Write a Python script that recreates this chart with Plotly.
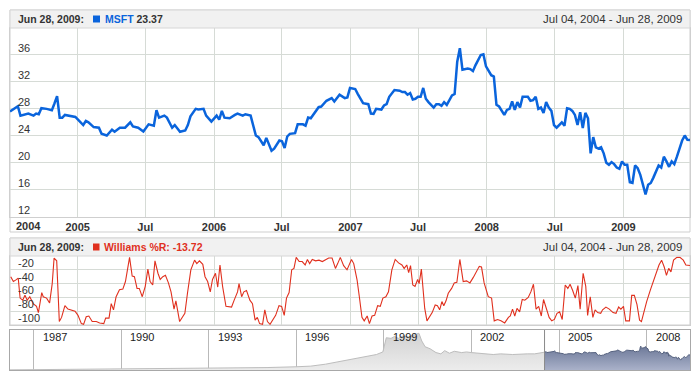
import plotly.graph_objects as go
import pandas as pd

W, H = 700, 380
START = pd.Timestamp("2004-07-04")
END = pd.Timestamp("2009-06-28")

# ---------------- data ----------------
msft_weeks = [0, 2, 3, 4, 6, 7, 9, 10, 11, 12, 14, 16, 17, 18, 19, 20, 21, 23, 25, 26,
              28, 29, 30, 32, 34, 35, 37, 39, 40, 42, 44, 46, 47, 49, 51, 53, 55, 56, 57, 59,
              60, 62, 63, 65, 67, 68, 69, 71, 72, 74, 75, 77, 79, 80, 81, 82, 84, 86, 87, 89,
              90, 92, 94, 95, 97, 98, 100, 101, 103, 104, 105, 106, 107, 109, 110, 112, 113, 114, 115, 118,
              119, 121, 123, 124, 126, 128, 129, 130, 132, 133, 135, 137, 138, 139, 140, 142, 143, 144, 145, 147,
              149, 150, 151, 152, 153, 154, 155, 156, 157, 158, 159, 160, 162, 163, 164, 165, 166, 167, 168, 169,
              170, 171, 172, 173, 175, 176, 177, 178, 180, 181, 182, 183, 184, 185, 186, 187, 189, 190, 191, 192,
              193, 194, 195, 196, 198, 199, 200, 201, 202, 203, 204, 205, 206, 207, 208, 209, 210, 211, 212, 213,
              214, 215, 216, 217, 218, 219, 220, 221, 222, 223, 224, 225, 226, 227, 228, 229, 230, 231, 232, 233,
              234, 235, 236, 237, 238, 239, 240, 241, 242, 243, 244, 245, 246, 247, 248, 249, 250, 251, 252, 253,
              254, 255, 256, 257, 258, 259, 260]
msft_close = [27.6, 28.1, 28.4, 27.0, 27.2, 27.3, 27.0, 27.3, 27.2, 28.1, 28.0, 27.8, 28.8, 29.9, 26.7, 26.7, 27.1, 26.9, 26.8, 26.4,
              25.6, 26.2, 26.0, 25.3, 25.2, 24.3, 24.05, 24.9, 24.6, 25.2, 25.2, 26.0, 25.4, 25.2, 24.65, 25.7, 25.5, 27.8, 26.7, 27.0,
              26.7, 25.2, 25.6, 24.6, 24.8, 25.6, 26.9, 28.0, 27.9, 28.0, 27.0, 26.1, 27.0, 26.4, 27.7, 26.7, 26.6, 27.1, 27.3, 27.0,
              27.2, 27.0, 24.05, 23.8, 22.6, 23.7, 21.8, 22.1, 23.3, 23.2, 22.2, 23.9, 24.3, 24.4, 25.7, 25.7, 25.5, 26.7, 26.6, 28.25,
              28.35, 29.2, 29.6, 29.1, 30.1, 29.6, 29.7, 31.1, 30.95, 30.2, 28.85, 28.7, 27.3, 27.25, 28.0, 27.9, 28.5, 28.7, 29.8, 30.8,
              30.7, 30.5, 30.5, 30.1, 30.35, 29.4, 29.5, 29.8, 29.8, 31.1, 29.5, 29.0, 28.2, 28.7, 28.7, 28.45, 29.0, 28.6, 29.4, 30.0,
              30.2, 35.0, 37.0, 33.8, 34.0, 33.9, 33.6, 34.5, 36.0, 36.1, 34.3, 33.6, 33.0, 32.8, 28.6, 28.35, 27.1, 27.85, 28.0, 29.1,
              27.85, 29.0, 28.2, 29.8, 29.8, 29.2, 29.3, 29.8, 28.0, 28.2, 27.4, 29.0, 28.2, 27.7, 25.6, 25.2, 25.6, 26.0, 25.5, 28.1,
              28.0, 27.7, 27.1, 25.6, 27.5, 25.15, 27.4, 26.6, 21.4, 23.8, 22.3, 22.1, 22.3, 21.4, 20.0, 19.7, 20.1, 19.8, 19.3, 19.1,
              20.2, 19.7, 19.7, 17.1, 17.0, 19.6, 19.2, 18.2, 16.75, 15.3, 16.75, 17.0, 17.8, 18.8, 19.6, 19.3, 20.9, 20.2, 19.4, 20.2,
              19.8, 20.9, 22.2, 23.3, 24.05, 23.4, 23.37]

wr_weeks = [0.3, 1.3, 2.2, 3.2, 3.8, 4.8, 5.7, 6.6, 7.6, 8.9, 10.2, 10.8, 12.1, 12.7, 14.0, 15.2, 16.1, 16.9, 17.8, 18.8,
            19.7, 21.0, 22.2, 23.5, 24.8, 26.0, 27.3, 28.2, 29.2, 30.2, 31.5, 33.0, 34.3, 35.8, 36.6, 37.8, 38.7, 39.6, 40.6, 41.9,
            43.2, 44.2, 45.1, 45.7, 46.7, 47.6, 48.6, 49.5, 50.5, 51.7, 52.7, 53.6, 54.6, 55.5, 56.5, 57.5, 58.4, 59.4, 60.6, 61.6,
            62.7, 63.5, 64.8, 65.8, 66.8, 67.9, 69.2, 70.5, 71.4, 72.4, 73.7, 74.5, 75.6, 76.6, 77.5, 78.5, 79.4, 80.3, 81.3, 82.5,
            83.8, 84.7, 85.7, 87.0, 87.6, 88.5, 89.5, 90.4, 91.7, 92.7, 93.7, 94.6, 95.5, 96.5, 97.5, 98.4, 99.4, 100.6, 101.6, 102.9,
            103.9, 104.8, 105.7, 106.7, 107.7, 108.6, 109.5, 110.5, 111.7, 112.8, 113.7, 114.5, 115.6, 116.8, 118.1, 119.4, 120.6, 121.9, 123.2, 124.4,
            125.3, 126.3, 127.6, 128.9, 129.5, 130.5, 131.4, 132.7, 133.6, 134.6, 135.5, 136.5, 137.4, 138.4, 139.4, 140.5, 141.6, 142.6, 143.7, 144.7,
            146.0, 147.3, 148.5, 149.8, 150.7, 151.7, 152.4, 153.2, 154.0, 154.9, 155.8, 156.4, 157.3, 158.5, 159.5, 160.6, 161.5, 162.5, 163.5, 164.3,
            165.1, 165.9, 166.7, 167.6, 168.9, 169.9, 170.8, 172.0, 173.3, 174.6, 175.8, 177.1, 178.4, 179.4, 180.3, 181.3, 182.8, 184.1, 185.1, 186.4,
            187.7, 189.2, 190.5, 191.3, 192.1, 193.0, 193.9, 194.8, 195.8, 196.8, 198.1, 199.1, 200.2, 201.2, 202.1, 203.2, 204.0, 205.1, 206.1, 207.2,
            208.2, 209.2, 210.1, 211.2, 212.3, 213.3, 214.2, 215.2, 216.2, 217.1, 218.0, 219.1, 220.2, 220.9, 221.9, 222.8, 223.7, 224.7, 225.8, 226.6,
            227.9, 229.2, 230.5, 231.7, 232.7, 233.6, 234.6, 235.5, 236.8, 237.7, 238.7, 239.7, 240.7, 241.5, 242.5, 243.5, 244.8, 246.1, 247.3, 248.2,
            249.1, 250.1, 251.0, 251.8, 252.7, 253.7, 255.0, 256.2, 257.4, 258.4, 260.0]
wr_values = [-30, -37, -35, -32, -61, -64, -57, -64, -59, -69, -73, -82, -53, -59, -61, -68, -40, -3, -7, -95,
             -89, -72, -77, -78, -80, -86, -98, -99, -88, -87, -95, -95, -97, -98, -90, -90, -69, -78, -59, -49,
             -48, -37, -15, -2, -29, -30, -47, -47, -59, -44, -19, -37, -42, -7, -25, -34, -30, -28, -39, -52,
             -77, -65, -95, -89, -83, -54, -20, -6, -11, -7, -12, -30, -37, -52, -34, -25, -45, -13, -44, -73,
             -74, -74, -64, -52, -40, -59, -52, -50, -64, -69, -93, -89, -98, -99, -78, -95, -99, -92, -86, -72,
             -73, -86, -61, -53, -20, -18, -2, -8, -8, -13, -5, -11, -5, -7, -6, -8, -6, -3, -3, -18,
             -11, -2, -14, -20, -15, -5, -11, -35, -59, -89, -94, -87, -98, -87, -86, -72, -73, -61, -59, -52,
             -20, -5, -10, -13, -18, -13, -24, -14, -42, -44, -34, -40, -19, -76, -94, -86, -82, -71, -72, -78,
             -66, -72, -65, -54, -47, -39, -38, -5, -37, -36, -39, -31, -21, -15, -16, -39, -59, -61, -94, -92,
             -94, -97, -89, -87, -77, -87, -76, -81, -63, -64, -60, -52, -41, -77, -73, -87, -63, -78, -89, -94,
             -92, -83, -81, -92, -42, -47, -41, -50, -61, -43, -77, -25, -44, -86, -59, -89, -78, -82, -83, -78,
             -74, -77, -82, -83, -74, -77, -73, -94, -94, -57, -57, -70, -93, -95, -76, -66, -49, -35, -20, -13,
             -6, -16, -28, -18, -23, -6, -2, -2, -6, -13, -13.72]

hist_dates = ["1986-03-13", "1987-01-01", "1988-01-01", "1989-01-01", "1990-01-01", "1991-01-01",
              "1992-01-01", "1993-01-01", "1994-01-01", "1995-01-01", "1996-01-01", "1996-07-01",
              "1997-01-01", "1997-07-01", "1997-12-01", "1998-04-01", "1998-07-01", "1998-10-01",
              "1998-12-20", "1999-02-01", "1999-04-01", "1999-05-15", "1999-07-01", "1999-09-01",
              "1999-11-01", "2000-01-01", "2000-03-15", "2000-04-20", "2000-06-01", "2000-08-01",
              "2000-10-15", "2000-12-15", "2001-02-01", "2001-04-01", "2001-06-01", "2001-09-01",
              "2001-11-01", "2002-01-01", "2002-06-01", "2002-10-01", "2003-01-01", "2003-06-01",
              "2003-12-01", "2004-03-01", "2004-07-04"]
hist_close = [0.2, 0.5, 0.6, 0.7, 1.2, 1.8, 2.6, 2.8, 3.0, 3.8, 5.0, 6.0,
              9.0, 13.0, 16.5, 19.5, 22.0, 24.0, 28.0, 50.0, 49.0, 52.0, 49.0, 53.0,
              51.0, 54.0, 57.0, 45.0, 36.0, 33.0, 27.0, 25.0, 30.0, 26.0, 29.0, 27.0,
              28.0, 27.0, 25.0, 24.0, 25.0, 24.0, 25.0, 25.0, 27.6]

main_tick_dates = ["2005-01-01", "2005-07-01", "2006-01-01", "2006-07-01", "2007-01-01",
                   "2007-07-01", "2008-01-01", "2008-07-01", "2009-01-01"]
main_tick_text = ["2005", "Jul", "2006", "Jul", "2007", "Jul", "2008", "Jul", "2009"]
price_ticks = [12, 16, 20, 24, 28, 32, 36]
wr_ticks = [-100, -80, -60, -40, -20]
scroll_years = [1987, 1990, 1993, 1996, 1999, 2002, 2005, 2008]

# ---------------- derived ----------------
msft_dates = [START + pd.Timedelta(weeks=w) for w in msft_weeks]
wr_dates = [START + pd.Timedelta(days=round(w * 7)) for w in wr_weeks]
scroll_dates = [f"{y}-01-01" for y in scroll_years]

FONT = "Tahoma, 'Liberation Sans', Arial, sans-serif"
BLUE = "#0A64DC"
RED = "#E0301E"
GRID = "#D6DBD6"
FRAME = "#CFCFCF"
TXT = "#333333"


def px(x):
    return x / W


def py(y):
    return 1 - y / H


fig = go.Figure()

fig.add_trace(go.Scatter(x=msft_dates, y=msft_close, mode="lines", xaxis="x", yaxis="y",
                         line=dict(color=BLUE, width=2.5), hoverinfo="skip"))
fig.add_trace(go.Scatter(x=wr_dates, y=wr_values, mode="lines", xaxis="x2", yaxis="y2",
                         line=dict(color=RED, width=1.1), hoverinfo="skip"))
fig.add_trace(go.Scatter(x=hist_dates, y=hist_close, mode="lines", xaxis="x3", yaxis="y3",
                         line=dict(color="#BDBDBD", width=1), fill="tozeroy",
                         fillgradient=dict(type="vertical",
                                           colorscale=[[0, "#ECECEC"], [1, "#D2D2D2"]]),
                         hoverinfo="skip"))
fig.add_trace(go.Scatter(x=msft_dates, y=msft_close, mode="lines", xaxis="x3", yaxis="y3",
                         line=dict(color="#56627F", width=1), fill="tozeroy",
                         fillgradient=dict(type="vertical",
                                           colorscale=[[0, "#A9B1C9"], [1, "#6C7898"]]),
                         hoverinfo="skip"))

dom_x = [px(10), px(690)]
common_x = dict(domain=dom_x, type="date", range=[START, END], tickvals=main_tick_dates,
                showgrid=True, gridcolor=GRID, gridwidth=1, showline=True, mirror=True,
                linecolor=FRAME, zeroline=False, ticks="", automargin=False)
common_y = dict(showgrid=True, gridcolor=GRID, showline=True, mirror=True, linecolor=FRAME,
                zeroline=False, ticks="", showticklabels=False, automargin=False)
fig.update_layout(
    width=W, height=H, autosize=False,
    margin=dict(l=0, r=0, t=0, b=0, pad=0),
    paper_bgcolor="white", plot_bgcolor="white",
    showlegend=False,
    font=dict(family=FONT, size=11, color=TXT),
    xaxis=dict(common_x, anchor="y",
               ticktext=[f"<b>{t}</b>" for t in main_tick_text],
               tickfont=dict(size=11, color=TXT)),
    yaxis=dict(common_y, domain=[py(216.7), py(28)], range=[12, 40], tickvals=price_ticks,
               anchor="x"),
    xaxis2=dict(common_x, anchor="y2", showticklabels=False),
    yaxis2=dict(common_y, domain=[py(325), py(256)], range=[-100, 0], tickvals=wr_ticks,
                anchor="x2"),
    xaxis3=dict(domain=dom_x, type="date", range=["1986-03-13", END], anchor="y3",
                tickvals=scroll_dates, showticklabels=False, showgrid=True,
                gridcolor="#B9B9B9", showline=True, mirror=True, linecolor="#A8A8A8",
                zeroline=False, ticks="", automargin=False),
    yaxis3=dict(domain=[py(370), py(330)], range=[0, 62], anchor="x3", showgrid=False,
                showticklabels=False, showline=True, mirror=True, linecolor="#A8A8A8",
                zeroline=False, ticks="", automargin=False),
)

shapes = []
# panel frames
shapes.append(dict(type="rect", xref="paper", yref="paper", x0=px(10), x1=px(690),
                   y0=py(232), y1=py(10), line=dict(color=FRAME, width=1), layer="below"))
shapes.append(dict(type="rect", xref="paper", yref="paper", x0=px(10), x1=px(690),
                   y0=py(325), y1=py(238), line=dict(color=FRAME, width=1), layer="below"))
# header bars
for top in (10, 238):
    shapes.append(dict(type="rect", xref="paper", yref="paper", x0=px(10), x1=px(690),
                       y0=py(top + 18), y1=py(top), fillcolor="#F1F1F1",
                       line=dict(color="#D6D6D6", width=1)))
# legend squares
shapes.append(dict(type="rect", xref="paper", yref="paper", x0=px(93), x1=px(100),
                   y0=py(22.5), y1=py(15.5), fillcolor=BLUE, line=dict(width=0)))
shapes.append(dict(type="rect", xref="paper", yref="paper", x0=px(93), x1=px(99.5),
                   y0=py(250.5), y1=py(243.5), fillcolor=RED, line=dict(width=0)))
# scroller selection edge
shapes.append(dict(type="line", xref="x3", yref="paper", x0=START, x1=START,
                   y0=py(370), y1=py(330), line=dict(color="#8A8A8A", width=1)))
fig.update_layout(shapes=shapes)

ann = []
for ycen in (19, 247):
    ann.append(dict(xref="paper", yref="paper", x=px(16), y=py(ycen),
                    text="<b>Jun 28, 2009:</b>",
                    showarrow=False, xanchor="left", yanchor="middle",
                    font=dict(size=10.5, color=TXT)))
    ann.append(dict(xref="paper", yref="paper", x=px(684), y=py(ycen),
                    text="Jul 04, 2004 - Jun 28, 2009", showarrow=False, xanchor="right",
                    yanchor="middle", font=dict(size=11.5, color=TXT)))
ann.append(dict(xref="paper", yref="paper", x=px(103), y=py(19),
                text=f"<b><span style='color:{BLUE}'>MSFT</span> {msft_close[-1]:.2f}</b>",
                showarrow=False, xanchor="left", yanchor="middle",
                font=dict(size=10.5, color=TXT)))
ann.append(dict(xref="paper", yref="paper", x=px(102), y=py(247),
                text=f"<b>Williams %R: {wr_values[-1]:.2f}</b>",
                showarrow=False, xanchor="left", yanchor="middle",
                font=dict(size=10.5, color=RED)))
ann.append(dict(xref="paper", yref="paper", x=px(14), y=py(226), text="<b>2004</b>",
                showarrow=False, xanchor="left", yanchor="middle",
                font=dict(size=11, color=TXT)))
# y tick labels (sit just above their grid lines)
for v in price_ticks:
    ann.append(dict(xref="paper", yref="y", x=px(16), y=v, text=str(v), showarrow=False,
                    xanchor="left", yanchor="bottom", yshift=-1,
                    font=dict(size=11, color=TXT)))
for v in wr_ticks:
    ann.append(dict(xref="paper", yref="y2", x=px(16), y=v, text=str(v), showarrow=False,
                    xanchor="left", yanchor="bottom", yshift=-1,
                    font=dict(size=11, color=TXT)))
for d, yv in zip(scroll_dates, scroll_years):
    ann.append(dict(xref="x3", yref="paper", x=d, y=py(337), text=str(yv), xshift=7,
                    showarrow=False, xanchor="left", yanchor="middle",
                    font=dict(size=11, color="#222222")))
fig.update_layout(annotations=ann)

fig.write_html("out.html", config={"displayModeBar": False},
               post_script="document.body.style.margin='0';")
